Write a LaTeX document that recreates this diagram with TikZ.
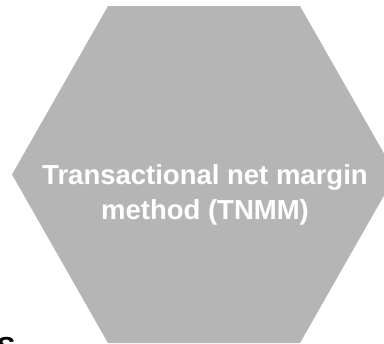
\documentclass[tikz,border=0pt]{standalone}
\usepackage{fontspec}
\setmainfont{Liberation Sans}
\usepackage{tikz}

\definecolor{hexgray}{HTML}{B5B5B5}

\begin{document}
\begin{tikzpicture}[x=1bp,y=-1bp,
        hexa/.style={fill=hexgray,draw=none},
        label/.style={text=white,font=\bfseries\fontsize{27.5bp}{35bp}\selectfont,align=center,inner sep=0pt},
        stray/.style={text=black,font=\bfseries\fontsize{27.5bp}{33bp}\selectfont,inner sep=0pt}]

    \useasboundingbox (0,0) rectangle (384,344);

    % hexagon, cut off on the right
    \fill[hexa] (108,6) -- (300,6) -- (396,174.5) -- (300,343) -- (108,343) -- (12,174.5) -- cycle;

    \node[label] (tnmm) at (205,195) {Transactional net margin\\method (TNMM)};

    % letter cut off at the bottom left
    \node[stray,anchor=base west] (cut) at (-3,356) {S};
\end{tikzpicture}
\end{document}
